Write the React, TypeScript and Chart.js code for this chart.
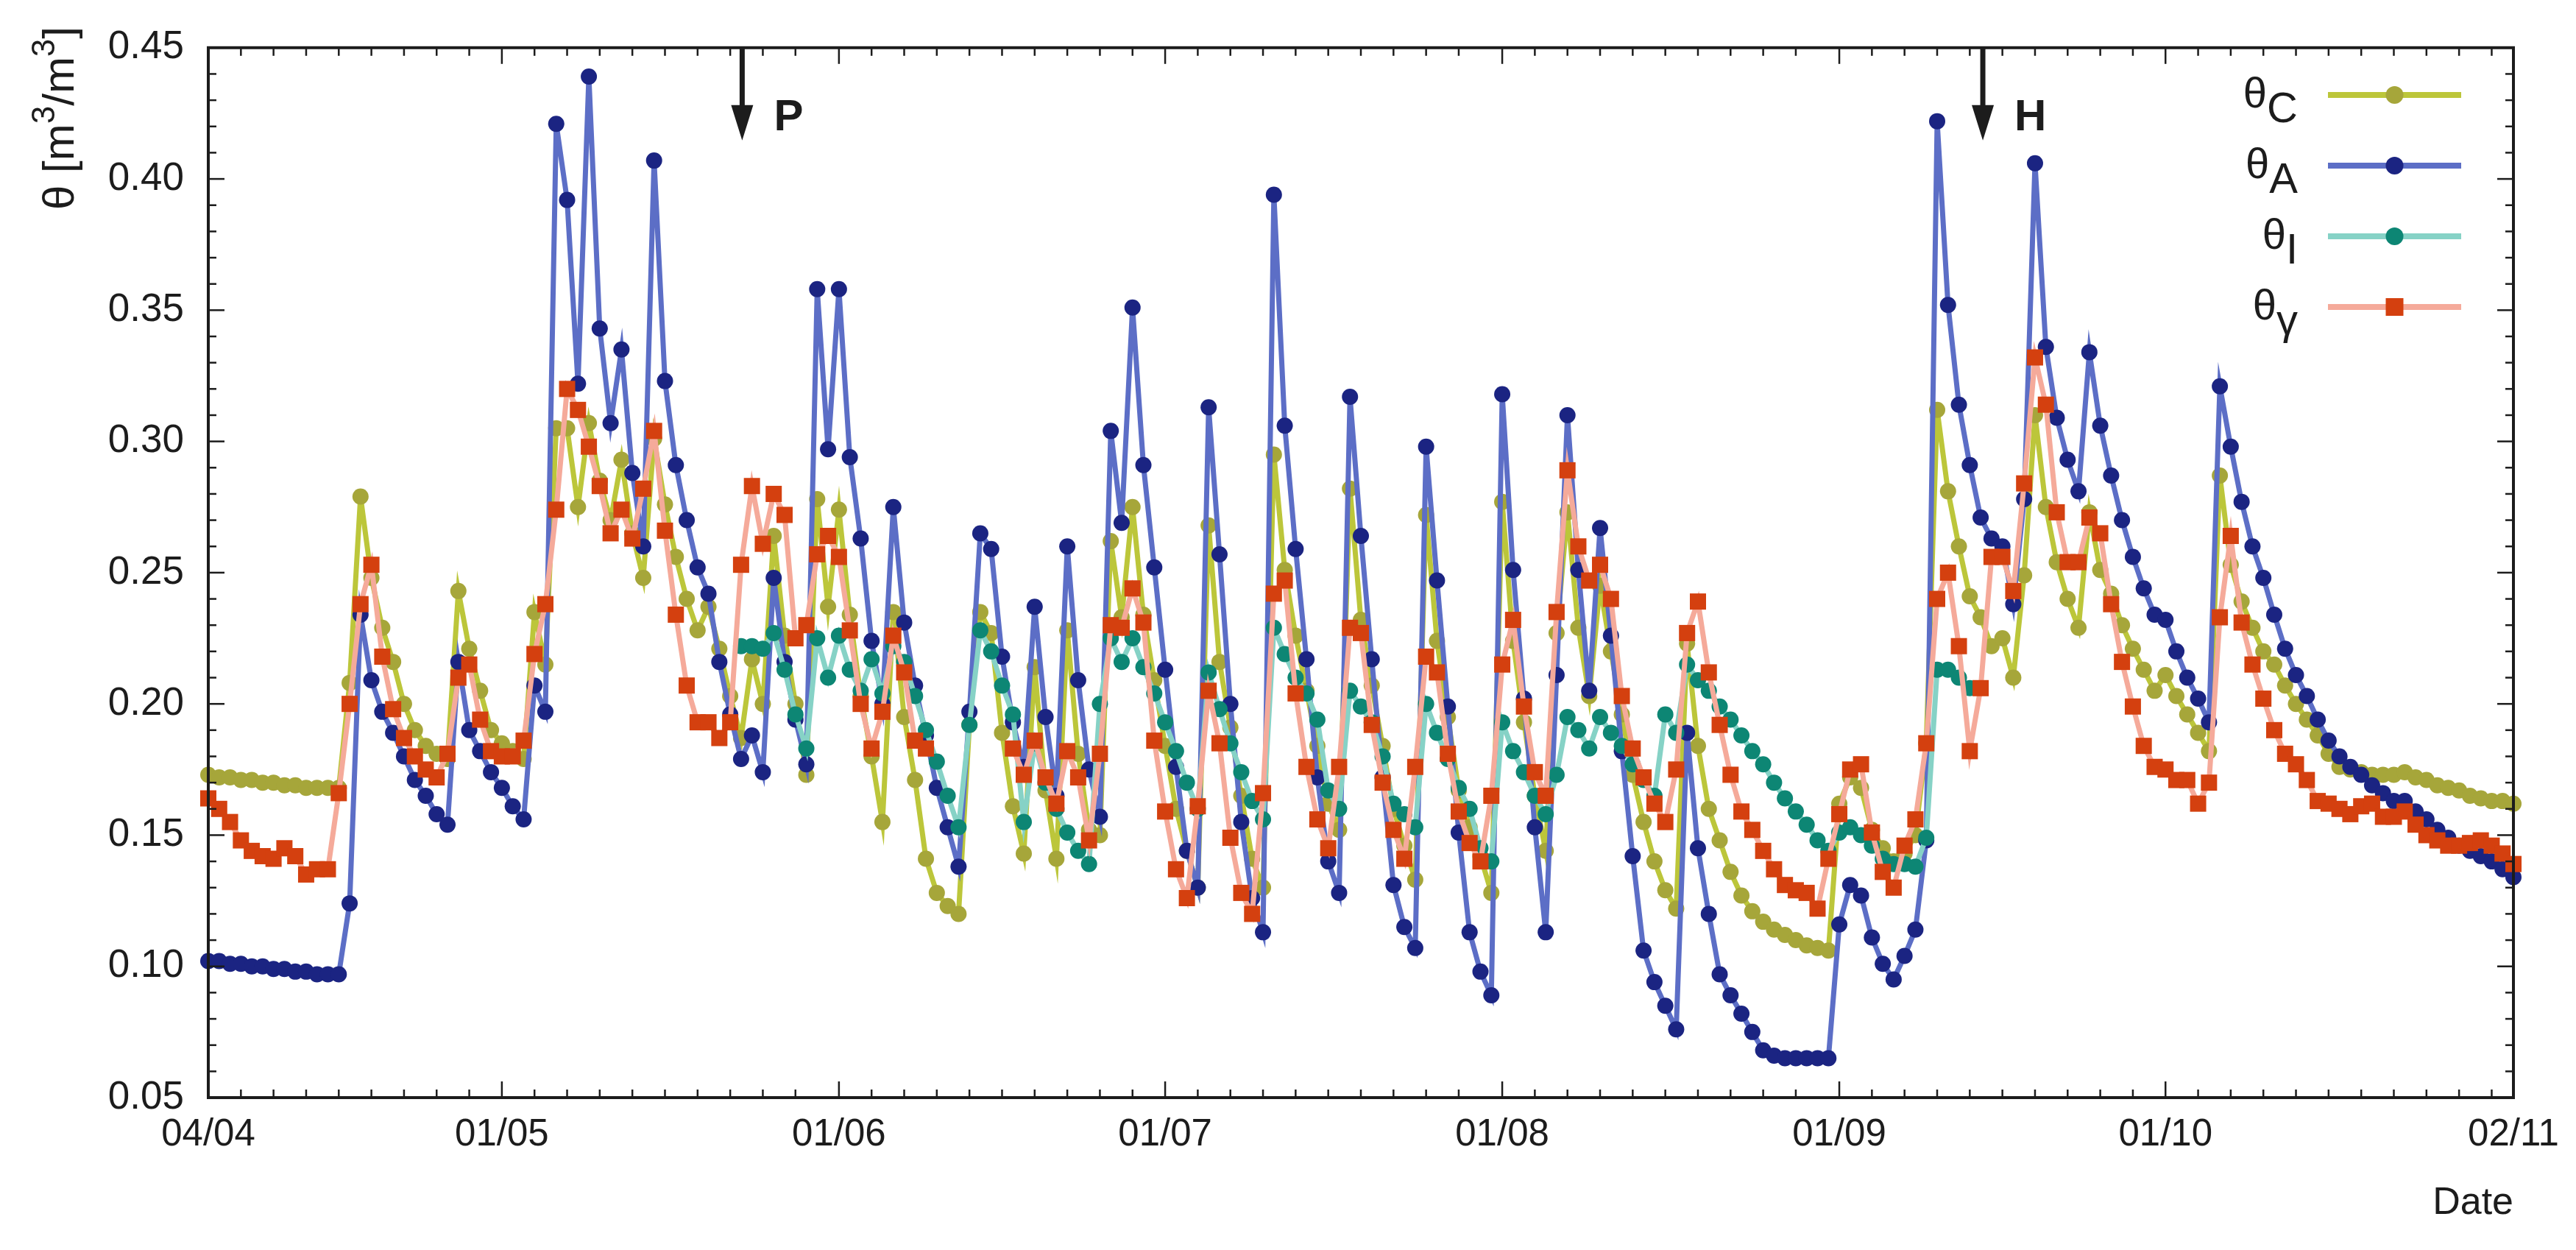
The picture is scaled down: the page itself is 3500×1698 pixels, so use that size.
import React, { useEffect, useRef } from 'react';
import { Chart, registerables } from 'chart.js';

Chart.register(...registerables);

// x axis: days since 04/04
const X_MIN = 0;
const X_MAX = 212;
const TICK_DAYS = [0, 27, 58, 88, 119, 150, 180, 212];
const TICK_LABELS = ['04/04', '01/05', '01/06', '01/07', '01/08', '01/09', '01/10', '02/11'];
const Y_MIN = 0.05;
const Y_MAX = 0.45;
const Y_STEP = 0.05;

const SERIES_SUBS = ['C', 'A', 'I', 'γ'];
const ANNOTATIONS = [
  { label: 'P', day: 49.1 },
  { label: 'H', day: 163.2 },
];

// daily values, first value at day START
const THETA_C_START = 0;
const THETA_C = [
  0.173, 0.172, 0.172, 0.171, 0.171, 0.170, 0.170, 0.169, 0.169, 0.168,
  0.168, 0.168, 0.168, 0.208, 0.279, 0.248, 0.229, 0.216, 0.200, 0.190,
  0.184, 0.181, 0.179, 0.243, 0.221, 0.205, 0.190, 0.185, 0.182, 0.179,
  0.235, 0.215, 0.305, 0.305, 0.275, 0.307, 0.285, 0.270, 0.293, 0.265,
  0.248, 0.301, 0.276, 0.256, 0.240, 0.228, 0.237, 0.221, 0.203, 0.187,
  0.217, 0.200, 0.264, 0.226, 0.200, 0.173, 0.278, 0.237, 0.274, 0.234,
  0.203, 0.180, 0.155, 0.235, 0.195, 0.171, 0.141, 0.128, 0.123, 0.120,
  0.192, 0.235, 0.227, 0.189, 0.161, 0.143, 0.214, 0.167, 0.141, 0.228,
  0.181, 0.152, 0.150, 0.262, 0.233, 0.275, 0.234, 0.209, 0.184, 0.160,
  0.144, 0.130, 0.268, 0.216, 0.191, 0.165, 0.141, 0.130, 0.295, 0.251,
  0.226, 0.205, 0.184, 0.162, 0.152, 0.282, 0.232, 0.207, 0.184, 0.160,
  0.146, 0.133, 0.272, 0.224, 0.195, 0.167, 0.153, 0.142, 0.128, 0.277,
  0.224, 0.193, 0.165, 0.144, 0.227, 0.273, 0.229, 0.203, 0.245, 0.220,
  0.196, 0.173, 0.155, 0.140, 0.129, 0.122, 0.223, 0.184, 0.160, 0.148,
  0.136, 0.127, 0.121, 0.117, 0.114, 0.112, 0.110, 0.108, 0.107, 0.106,
  0.162, 0.172, 0.168, 0.152, 0.145, 0.140, 0.143, 0.150, 0.185, 0.312,
  0.281, 0.260, 0.241, 0.233, 0.222, 0.225, 0.210, 0.249, 0.310, 0.275,
  0.254, 0.240, 0.229, 0.273, 0.251, 0.242, 0.230, 0.221, 0.213, 0.205,
  0.211, 0.203, 0.196, 0.189, 0.182, 0.287, 0.253, 0.239, 0.229, 0.220,
  0.215, 0.207, 0.200, 0.194, 0.188, 0.181, 0.176, 0.175, 0.174, 0.173,
  0.173, 0.173, 0.174, 0.172, 0.171, 0.169, 0.168, 0.167, 0.165, 0.164,
  0.163, 0.163, 0.162,
];

const THETA_A_START = 0;
const THETA_A = [
  0.102, 0.102, 0.101, 0.101, 0.100, 0.100, 0.099, 0.099, 0.098, 0.098,
  0.097, 0.097, 0.097, 0.124, 0.234, 0.209, 0.197, 0.189, 0.180, 0.171,
  0.165, 0.158, 0.154, 0.216, 0.190, 0.182, 0.174, 0.168, 0.161, 0.156,
  0.207, 0.197, 0.421, 0.392, 0.322, 0.439, 0.343, 0.307, 0.335, 0.288,
  0.260, 0.407, 0.323, 0.291, 0.270, 0.252, 0.242, 0.216, 0.196, 0.179,
  0.188, 0.174, 0.248, 0.216, 0.194, 0.177, 0.358, 0.297, 0.358, 0.294,
  0.263, 0.224, 0.200, 0.275, 0.231, 0.207, 0.188, 0.168, 0.153, 0.138,
  0.197, 0.265, 0.259, 0.218, 0.193, 0.176, 0.237, 0.195, 0.165, 0.260,
  0.209, 0.175, 0.157, 0.304, 0.269, 0.351, 0.291, 0.252, 0.213, 0.176,
  0.144, 0.130, 0.313, 0.257, 0.200, 0.155, 0.126, 0.113, 0.394, 0.306,
  0.259, 0.217, 0.172, 0.140, 0.128, 0.317, 0.264, 0.217, 0.172, 0.131,
  0.115, 0.107, 0.298, 0.247, 0.199, 0.151, 0.113, 0.098, 0.089, 0.318,
  0.251, 0.202, 0.153, 0.113, 0.211, 0.310, 0.251, 0.205, 0.267, 0.226,
  0.182, 0.142, 0.106, 0.094, 0.085, 0.076, 0.189, 0.145, 0.120, 0.097,
  0.089, 0.082, 0.075, 0.068, 0.066, 0.065, 0.065, 0.065, 0.065, 0.065,
  0.116, 0.131, 0.127, 0.111, 0.101, 0.095, 0.104, 0.114, 0.148, 0.422,
  0.352, 0.314, 0.291, 0.271, 0.263, 0.260, 0.238, 0.278, 0.406, 0.336,
  0.309, 0.293, 0.281, 0.334, 0.306, 0.287, 0.270, 0.256, 0.244, 0.234,
  0.232, 0.220, 0.210, 0.202, 0.193, 0.321, 0.298, 0.277, 0.260, 0.248,
  0.234, 0.221, 0.211, 0.203, 0.194, 0.186, 0.180, 0.176, 0.173, 0.169,
  0.166, 0.163, 0.163, 0.159, 0.156, 0.152, 0.149, 0.146, 0.144, 0.142,
  0.140, 0.137, 0.134,
];

const THETA_I_START = 49;
const THETA_I = [
  0.222,
  0.222, 0.221, 0.227, 0.213, 0.196, 0.183, 0.225, 0.210, 0.226, 0.213,
  0.205, 0.217, 0.204, 0.222, 0.216, 0.203, 0.190, 0.178, 0.165, 0.153,
  0.192, 0.228, 0.220, 0.207, 0.196, 0.155, 0.185, 0.170, 0.160, 0.151,
  0.144, 0.139, 0.200, 0.225, 0.216, 0.225, 0.214, 0.204, 0.193, 0.182,
  0.170, 0.160, 0.212, 0.198, 0.185, 0.174, 0.163, 0.156, 0.229, 0.219,
  0.210, 0.204, 0.194, 0.167, 0.160, 0.205, 0.199, 0.193, 0.180, 0.162,
  0.158, 0.153, 0.200, 0.189, 0.179, 0.168, 0.160, 0.145, 0.140, 0.193,
  0.182, 0.174, 0.165, 0.158, 0.173, 0.195, 0.190, 0.183, 0.195, 0.189,
  0.184, 0.177, 0.171, 0.165, 0.196, 0.189, 0.215, 0.209, 0.205, 0.199,
  0.194, 0.188, 0.182, 0.177, 0.170, 0.164, 0.159, 0.154, 0.148, 0.144,
  0.151, 0.153, 0.150, 0.146, 0.141, 0.139, 0.139, 0.138, 0.149, 0.213,
  0.213, 0.210, 0.206,
];

const THETA_G_START = 0;
const THETA_G = [
  0.164, 0.160, 0.155, 0.148, 0.144, 0.142, 0.141, 0.145, 0.142, 0.135,
  0.137, 0.137, 0.166, 0.200, 0.238, 0.253, 0.218, 0.198, 0.187, 0.180,
  0.175, 0.172, 0.181, 0.210, 0.215, 0.194, 0.182, 0.180, 0.180, 0.186,
  0.219, 0.238, 0.274, 0.320, 0.312, 0.298, 0.283, 0.265, 0.274, 0.263,
  0.282, 0.304, 0.266, 0.234, 0.207, 0.193, 0.193, 0.187, 0.193, 0.253,
  0.283, 0.261, 0.280, 0.272, 0.225, 0.230, 0.257, 0.264, 0.256, 0.228,
  0.200, 0.183, 0.197, 0.226, 0.212, 0.186, 0.183, null, null, null,
  null, null, null, null, 0.183, 0.173, 0.186, 0.172, 0.162, 0.182,
  0.172, 0.148, 0.181, 0.230, 0.229, 0.244, 0.231, 0.186, 0.159, 0.137,
  0.126, 0.161, 0.205, 0.185, 0.149, 0.128, 0.120, 0.166, 0.242, 0.247,
  0.204, 0.176, 0.156, 0.145, 0.176, 0.229, 0.227, 0.192, 0.170, 0.152,
  0.141, 0.176, 0.218, 0.212, 0.181, 0.159, 0.147, 0.140, 0.165, 0.215,
  0.232, 0.199, 0.174, 0.165, 0.235, 0.289, 0.260, 0.247, 0.253, 0.240,
  0.203, 0.183, 0.172, 0.162, 0.155, 0.175, 0.227, 0.239, 0.212, 0.192,
  0.173, 0.159, 0.152, 0.144, 0.137, 0.131, 0.129, 0.128, 0.122, 0.141,
  0.158, 0.175, 0.177, 0.151, 0.136, 0.130, 0.146, 0.156, 0.185, 0.240,
  0.250, 0.222, 0.182, 0.206, 0.256, 0.256, 0.243, 0.284, 0.332, 0.314,
  0.273, 0.254, 0.254, 0.271, 0.265, 0.238, 0.216, 0.199, 0.184, 0.176,
  0.175, 0.171, 0.171, 0.162, 0.170, 0.233, 0.264, 0.231, 0.215, 0.202,
  0.190, 0.181, 0.177, 0.171, 0.163, 0.162, 0.160, 0.158, 0.161, 0.162,
  0.157, 0.157, 0.159, 0.154, 0.150, 0.148, 0.146, 0.146, 0.147, 0.148,
  0.146, 0.143, 0.139,
];

const FONT = '"Liberation Sans", Arial, Helvetica, sans-serif';
const INK = '#1c1c1c';

const STYLES = [
  { line: '#bcc63a', point: '#a6a63a', shape: 'circle' },
  { line: '#5c6ec6', point: '#1b2482', shape: 'circle' },
  { line: '#86d2c6', point: '#0d8674', shape: 'circle' },
  { line: '#f5aa9a', point: '#d4400f', shape: 'rect' },
];

const CIRCLE_R = 11;
const SQUARE_SIDE = 22;

const toPoints = (values: (number | null)[], start: number) =>
  values.map((v, i) => ({ x: start + i, y: v }));

function drawMarker(ctx: CanvasRenderingContext2D, shape: string, x: number, y: number, color: string) {
  ctx.fillStyle = color;
  ctx.beginPath();
  if (shape === 'rect') {
    const h = SQUARE_SIDE / 2 + 1;
    ctx.rect(x - h, y - h, 2 * h, 2 * h);
  } else {
    ctx.arc(x, y, CIRCLE_R + 1, 0, Math.PI * 2);
  }
  ctx.fill();
}

const framePlugin = {
  id: 'gnuFrame',
  afterDatasetsDraw(chart: any) {
    const { ctx, chartArea: a, scales } = chart;
    const xs = scales.x;
    const ys = scales.y;
    ctx.save();
    ctx.strokeStyle = INK;
    ctx.lineWidth = 2.5;
    const MAJ = 22;
    const MIN = 11;
    const seg = (x1: number, y1: number, x2: number, y2: number) => {
      ctx.beginPath();
      ctx.moveTo(x1, y1);
      ctx.lineTo(x2, y2);
      ctx.stroke();
    };
    const xTick = (d: number, len: number) => {
      const px = xs.getPixelForValue(d);
      seg(px, a.bottom, px, a.bottom - len);
      seg(px, a.top, px, a.top + len);
    };
    const yTick = (v: number, len: number) => {
      const py = ys.getPixelForValue(v);
      seg(a.left, py, a.left + len, py);
      seg(a.right, py, a.right - len, py);
    };
    for (let i = 0; i < TICK_DAYS.length; i++) {
      xTick(TICK_DAYS[i], MAJ);
      if (i < TICK_DAYS.length - 1) {
        for (let d = TICK_DAYS[i] + 3; d < TICK_DAYS[i + 1] - 1.5; d += 3) xTick(d, MIN);
      }
    }
    for (let k = 0; k <= Math.round((Y_MAX - Y_MIN) / 0.01); k++) {
      const v = Y_MIN + k * 0.01;
      yTick(v, k % 5 === 0 ? MAJ : MIN);
    }
    ctx.lineWidth = 4;
    ctx.strokeRect(a.left, a.top, a.right - a.left, a.bottom - a.top);

    // annotation arrows
    ctx.fillStyle = INK;
    ANNOTATIONS.forEach((an) => {
      const px = xs.getPixelForValue(an.day);
      const tip = a.top + 126;
      ctx.lineWidth = 7;
      seg(px, a.top, px, tip - 40);
      ctx.beginPath();
      ctx.moveTo(px - 15, tip - 48);
      ctx.lineTo(px + 15, tip - 48);
      ctx.lineTo(px, tip);
      ctx.closePath();
      ctx.fill();
      ctx.font = `bold 60px ${FONT}`;
      ctx.textAlign = 'left';
      ctx.textBaseline = 'alphabetic';
      ctx.fillText(an.label, px + 43, a.top + 112);
    });

    // legend
    const rows = [129, 225, 321, 417];
    const textRight = a.right - 293;
    const lineL = a.right - 252;
    const lineR = a.right - 71;
    SERIES_SUBS.forEach((sub, i) => {
      const y = rows[i];
      const st = STYLES[i];
      ctx.font = `58px ${FONT}`;
      ctx.textBaseline = 'alphabetic';
      ctx.textAlign = 'left';
      const wT = ctx.measureText('θ').width;
      const wS = ctx.measureText(sub).width;
      const x0 = textRight - wT - wS;
      ctx.fillStyle = INK;
      ctx.fillText('θ', x0, y + 17);
      ctx.fillText(sub, x0 + wT, y + 37);
      ctx.strokeStyle = st.line;
      ctx.lineWidth = 8;
      seg(lineL, y, lineR, y);
      drawMarker(ctx, st.shape, (lineL + lineR) / 2, y, st.point);
    });

    // y-axis title  θ [m3/m3]
    const parts: [string, boolean][] = [['θ [m', false], ['3', true], ['/m', false], ['3', true], [']', false]];
    const mainF = `60px ${FONT}`;
    const supF = `44px ${FONT}`;
    let total = 0;
    parts.forEach(([t, sup]) => {
      ctx.font = sup ? supF : mainF;
      total += ctx.measureText(t).width;
    });
    ctx.translate(100, 36 + total);
    ctx.rotate(-Math.PI / 2);
    ctx.fillStyle = INK;
    ctx.textAlign = 'left';
    let cx = 0;
    parts.forEach(([t, sup]) => {
      ctx.font = sup ? supF : mainF;
      ctx.fillText(t, cx, sup ? -26 : 0);
      cx += ctx.measureText(t).width;
    });
    ctx.restore();
  },
};

export default function App() {
  const ref = useRef<HTMLCanvasElement>(null);
  useEffect(() => {
    if (!ref.current) return;
    const series = [
      { data: toPoints(THETA_C, THETA_C_START), order: 4 },
      { data: toPoints(THETA_A, THETA_A_START), order: 3 },
      { data: toPoints(THETA_I, THETA_I_START), order: 2 },
      { data: toPoints(THETA_G, THETA_G_START), order: 1 },
    ];
    const datasets = series.map((s, i) => ({
      label: 'θ' + SERIES_SUBS[i],
      data: s.data,
      order: s.order,
      borderColor: STYLES[i].line,
      backgroundColor: STYLES[i].point,
      pointBackgroundColor: STYLES[i].point,
      pointBorderColor: STYLES[i].point,
      pointBorderWidth: 0,
      pointStyle: STYLES[i].shape,
      pointRadius: STYLES[i].shape === 'rect' ? SQUARE_SIDE / Math.SQRT2 : CIRCLE_R,
      borderWidth: 7,
      tension: 0,
      spanGaps: false,
      clip: false as any,
    }));
    const chart = new Chart(ref.current, {
      type: 'line',
      data: { datasets: datasets as any },
      options: {
        animation: false,
        responsive: false,
        devicePixelRatio: 1,
        layout: { padding: { left: 0, right: 85, top: 49, bottom: 0 } },
        plugins: { legend: { display: false }, tooltip: { enabled: false } },
        events: [],
        scales: {
          x: {
            type: 'linear',
            min: X_MIN,
            max: X_MAX,
            afterBuildTicks: (s: any) => {
              s.ticks = TICK_DAYS.map((v) => ({ value: v }));
            },
            afterFit: (s: any) => {
              s.height = 207;
            },
            grid: { display: false, drawTicks: false },
            border: { display: false },
            ticks: {
              autoSkip: false,
              maxRotation: 0,
              minRotation: 0,
              padding: 20,
              color: INK,
              font: { family: FONT, size: 51 },
              callback: (v: any) => {
                const i = TICK_DAYS.indexOf(Number(v));
                return i >= 0 ? TICK_LABELS[i] : '';
              },
            },
            title: {
              display: true,
              text: 'Date',
              align: 'end',
              color: INK,
              font: { family: FONT, size: 52 },
              padding: { top: 0, bottom: 32 },
            },
          },
          y: {
            min: Y_MIN,
            max: Y_MAX,
            afterFit: (s: any) => {
              s.width = 283;
            },
            grid: { display: false, drawTicks: false },
            border: { display: false },
            ticks: {
              stepSize: Y_STEP,
              padding: 33,
              color: INK,
              font: { family: FONT, size: 53 },
              callback: (v: any) => Number(v).toFixed(2),
            },
          },
        },
      },
      plugins: [framePlugin],
    });
    return () => chart.destroy();
  }, []);
  return (
    <div style={{ position: 'fixed', left: 0, top: 0, width: 3500, height: 1698, background: '#ffffff' }}>
      <canvas ref={ref} width={3500} height={1698} style={{ width: 3500, height: 1698, display: 'block' }} />
    </div>
  );
}
